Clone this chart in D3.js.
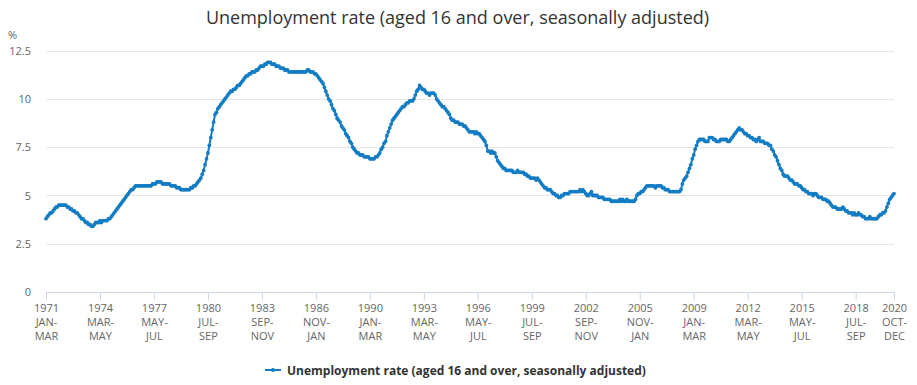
<!DOCTYPE html>
<html>
<head>
<meta charset="utf-8">
<script src="https://cdn.jsdelivr.net/npm/d3@7"></script>
<style>
  html, body { margin: 0; padding: 0; background: #ffffff; }
  svg { display: block; font-family: "Open Sans", "Noto Sans", sans-serif; }
</style>
</head>
<body>
<svg id="chart" width="917" height="385"></svg>
<script>
// ---- Data ----
const titleText = "Unemployment rate (aged 16 and over, seasonally adjusted)";
const seriesName = "Unemployment rate (aged 16 and over, seasonally adjusted)";
const startYear = 1971;
const monthNames = ["JAN","FEB","MAR","APR","MAY","JUN","JUL","AUG","SEP","OCT","NOV","DEC"];

// Rolling three-month values, one row per starting year (Jan-Mar ... Dec-Feb)
const rate = [
  // 1971
  3.8, 3.9, 4.0, 4.1, 4.1, 4.2, 4.3, 4.4, 4.4, 4.5, 4.5, 4.5,
  // 1972
  4.5, 4.5, 4.5, 4.4, 4.4, 4.3, 4.3, 4.2, 4.2, 4.1, 4.1, 4.0,
  // 1973
  3.9, 3.8, 3.8, 3.7, 3.6, 3.6, 3.5, 3.5, 3.4, 3.4, 3.5, 3.6,
  // 1974
  3.6, 3.6, 3.7, 3.6, 3.7, 3.7, 3.7, 3.7, 3.8, 3.8, 3.9, 4.0,
  // 1975
  4.1, 4.2, 4.3, 4.4, 4.5, 4.6, 4.7, 4.8, 4.9, 5.0, 5.1, 5.2,
  // 1976
  5.3, 5.3, 5.4, 5.5, 5.5, 5.5, 5.5, 5.5, 5.5, 5.5, 5.5, 5.5,
  // 1977
  5.5, 5.5, 5.5, 5.6, 5.6, 5.6, 5.7, 5.7, 5.7, 5.7, 5.6, 5.6,
  // 1978
  5.6, 5.6, 5.6, 5.6, 5.5, 5.5, 5.5, 5.5, 5.4, 5.4, 5.4, 5.3,
  // 1979
  5.3, 5.3, 5.3, 5.3, 5.3, 5.3, 5.4, 5.4, 5.5, 5.5, 5.6, 5.7,
  // 1980
  5.8, 5.9, 6.1, 6.3, 6.6, 6.9, 7.2, 7.6, 8.0, 8.4, 8.8, 9.2,
  // 1981
  9.3, 9.5, 9.6, 9.7, 9.8, 9.9, 10.0, 10.1, 10.2, 10.3, 10.4, 10.4,
  // 1982
  10.5, 10.5, 10.6, 10.7, 10.7, 10.8, 10.9, 11.0, 11.1, 11.2, 11.2, 11.3,
  // 1983
  11.3, 11.4, 11.4, 11.4, 11.5, 11.5, 11.6, 11.7, 11.7, 11.7, 11.8, 11.8,
  // 1984
  11.9, 11.9, 11.9, 11.8, 11.8, 11.8, 11.7, 11.7, 11.7, 11.6, 11.6, 11.6,
  // 1985
  11.5, 11.5, 11.5, 11.4, 11.4, 11.4, 11.4, 11.4, 11.4, 11.4, 11.4, 11.4,
  // 1986
  11.4, 11.4, 11.4, 11.4, 11.5, 11.5, 11.4, 11.4, 11.4, 11.3, 11.3, 11.2,
  // 1987
  11.1, 11.0, 10.9, 10.8, 10.6, 10.4, 10.2, 10.0, 9.9, 9.7, 9.5, 9.4,
  // 1988
  9.2, 9.0, 8.9, 8.8, 8.6, 8.5, 8.4, 8.2, 8.1, 8.0, 7.8, 7.7,
  // 1989
  7.5, 7.4, 7.3, 7.2, 7.2, 7.1, 7.1, 7.1, 7.0, 7.0, 7.0, 7.0,
  // 1990
  6.9, 6.9, 6.9, 6.9, 7.0, 7.0, 7.1, 7.2, 7.4, 7.5, 7.7, 7.8,
  // 1991
  8.1, 8.3, 8.5, 8.7, 8.9, 9.0, 9.1, 9.2, 9.3, 9.4, 9.5, 9.6,
  // 1992
  9.6, 9.7, 9.8, 9.8, 9.9, 9.9, 9.9, 10.0, 10.2, 10.4, 10.5, 10.7,
  // 1993
  10.6, 10.5, 10.5, 10.4, 10.3, 10.3, 10.2, 10.3, 10.3, 10.3, 10.2, 10.0,
  // 1994
  9.9, 9.8, 9.7, 9.6, 9.6, 9.5, 9.4, 9.3, 9.2, 9.0, 8.9, 8.9,
  // 1995
  8.8, 8.8, 8.8, 8.7, 8.7, 8.7, 8.6, 8.6, 8.5, 8.4, 8.3, 8.3,
  // 1996
  8.3, 8.3, 8.2, 8.3, 8.2, 8.2, 8.1, 8.0, 7.9, 7.8, 7.6, 7.3,
  // 1997
  7.3, 7.2, 7.3, 7.2, 7.2, 7.0, 6.8, 6.7, 6.6, 6.5, 6.4, 6.4,
  // 1998
  6.3, 6.3, 6.3, 6.3, 6.3, 6.2, 6.2, 6.2, 6.3, 6.2, 6.2, 6.2,
  // 1999
  6.2, 6.1, 6.1, 6.0, 6.0, 5.9, 5.9, 5.9, 5.9, 5.8, 5.9, 5.8,
  // 2000
  5.7, 5.6, 5.5, 5.4, 5.4, 5.3, 5.3, 5.3, 5.2, 5.1, 5.1, 5.0,
  // 2001
  5.0, 4.9, 4.9, 5.0, 5.0, 5.1, 5.1, 5.1, 5.1, 5.2, 5.2, 5.2,
  // 2002
  5.2, 5.2, 5.2, 5.2, 5.3, 5.2, 5.3, 5.2, 5.1, 5.0, 5.0, 5.1,
  // 2003
  5.2, 5.0, 5.0, 5.0, 5.0, 4.9, 4.9, 4.9, 4.9, 4.8, 4.8, 4.8,
  // 2004
  4.8, 4.8, 4.7, 4.7, 4.7, 4.7, 4.7, 4.7, 4.8, 4.7, 4.8, 4.7,
  // 2005
  4.7, 4.8, 4.7, 4.7, 4.7, 4.7, 4.7, 4.8, 5.0, 5.1, 5.1, 5.2,
  // 2006
  5.2, 5.3, 5.4, 5.5, 5.5, 5.5, 5.5, 5.5, 5.5, 5.4, 5.5, 5.5,
  // 2007
  5.5, 5.5, 5.4, 5.4, 5.3, 5.3, 5.3, 5.2, 5.2, 5.2, 5.2, 5.2,
  // 2008
  5.2, 5.2, 5.2, 5.3, 5.6, 5.8, 5.9, 6.0, 6.2, 6.4, 6.6, 6.9,
  // 2009
  7.1, 7.4, 7.6, 7.8, 7.9, 7.9, 7.9, 7.9, 7.8, 7.8, 7.8, 8.0,
  // 2010
  8.0, 8.0, 7.9, 7.9, 7.8, 7.8, 7.8, 7.9, 7.9, 7.9, 7.9, 7.9,
  // 2011
  7.8, 7.8, 7.9, 8.0, 8.1, 8.2, 8.3, 8.4, 8.5, 8.4, 8.4, 8.3,
  // 2012
  8.2, 8.2, 8.1, 8.1, 8.0, 8.0, 7.9, 7.9, 7.8, 7.9, 8.0, 7.8,
  // 2013
  7.8, 7.8, 7.7, 7.7, 7.7, 7.6, 7.6, 7.4, 7.3, 7.1, 7.0, 6.8,
  // 2014
  6.6, 6.4, 6.3, 6.1, 6.0, 6.0, 6.0, 5.9, 5.8, 5.8, 5.7, 5.6,
  // 2015
  5.6, 5.6, 5.5, 5.5, 5.4, 5.3, 5.3, 5.2, 5.2, 5.1, 5.1, 5.1,
  // 2016
  5.0, 5.1, 5.1, 5.0, 4.9, 4.9, 4.9, 4.8, 4.8, 4.8, 4.7, 4.7,
  // 2017
  4.6, 4.5, 4.4, 4.4, 4.4, 4.3, 4.3, 4.3, 4.3, 4.4, 4.3, 4.2,
  // 2018
  4.2, 4.1, 4.1, 4.1, 4.0, 4.1, 4.0, 4.0, 4.1, 4.0, 4.0, 3.9,
  // 2019
  3.9, 3.8, 3.8, 3.8, 3.9, 3.8, 3.8, 3.8, 3.8, 3.8, 3.9, 4.0,
  // 2020 (Jan-Mar ... Oct-Dec)
  4.0, 4.1, 4.1, 4.2, 4.4, 4.6, 4.8, 4.9, 5.0, 5.1
];

// Category labels (rolling 3-month periods)
const categories = rate.map((_, i) => {
  const y = startYear + Math.floor(i / 12);
  const m = i % 12;
  return y + " " + monthNames[m] + "-" + monthNames[(m + 2) % 12];
});

// Tick labels shown on the x axis
const xTickCats = [
  "1971 JAN-MAR", "1974 MAR-MAY", "1977 MAY-JUL", "1980 JUL-SEP", "1983 SEP-NOV",
  "1986 NOV-JAN", "1990 JAN-MAR", "1993 MAR-MAY", "1996 MAY-JUL", "1999 JUL-SEP",
  "2002 SEP-NOV", "2005 NOV-JAN", "2009 JAN-MAR", "2012 MAR-MAY", "2015 MAY-JUL",
  "2018 JUL-SEP", "2020 OCT-DEC"
];
const yTicks = [0, 2.5, 5, 7.5, 10, 12.5];
const yUnit = "%";

// ---- Layout ----
const W = 917, H = 385;
const plot = { left: 46, right: 894, top: 50.7, bottom: 292 };
const color = "#137cc3";

const svg = d3.select("#chart");

const x = d3.scalePoint().domain(categories).range([plot.left, plot.right]).padding(0);
const y = d3.scaleLinear().domain([0, 12.5]).range([plot.bottom, plot.top]);

// Title
svg.append("text")
  .attr("x", W / 2 - 1).attr("y", 24)
  .attr("text-anchor", "middle")
  .attr("font-size", 18)
  .attr("fill", "#333333")
  .text(titleText);

// Unit label
svg.append("text")
  .attr("x", 8).attr("y", 39)
  .attr("font-size", 11)
  .attr("fill", "#666666")
  .text(yUnit);

// Gridlines + y labels via axis
const yAxis = d3.axisLeft(y).tickValues(yTicks)
  .tickSize(-(plot.right - plot.left))
  .tickFormat(d => d3.format("~g")(d));
const gy = svg.append("g")
  .attr("transform", `translate(${plot.left},0)`)
  .call(yAxis);
gy.select(".domain").remove();
gy.selectAll(".tick line").attr("stroke", "#e6e6e6").attr("stroke-width", 1)
  .attr("shape-rendering", "crispEdges");
gy.selectAll(".tick text")
  .attr("x", -15)
  .attr("font-size", 11)
  .attr("font-family", "'Open Sans', 'Noto Sans', sans-serif")
  .attr("fill", "#666666");

// X axis
const xAxis = d3.axisBottom(x).tickValues(xTickCats).tickSize(8).tickSizeOuter(0).tickFormat(() => "");
const gx = svg.append("g")
  .attr("transform", `translate(0,${plot.bottom + 0.5})`)
  .call(xAxis);
gx.select(".domain").attr("stroke", "#ccd6eb").attr("stroke-width", 1)
  .attr("d", `M${plot.left},0H${plot.right}`);
gx.selectAll(".tick line").attr("stroke", "#ccd6eb").attr("stroke-width", 1);
gx.selectAll(".tick").each(function(d) {
  const parts = d.split(" ");
  const months = parts[1].split("-");
  const lines = [parts[0], months[0] + "-", months[1]];
  const t = d3.select(this).append("text")
    .attr("text-anchor", "middle")
    .attr("font-size", 11)
    .attr("font-family", "'Open Sans', 'Noto Sans', sans-serif")
    .attr("fill", "#666666");
  lines.forEach((s, i) => {
    t.append("tspan").attr("x", 0).attr("y", 19.5 + i * 14.2).text(s);
  });
});

// Line
const line = d3.line()
  .x((d, i) => x(categories[i]))
  .y(d => y(d));

svg.append("path")
  .datum(rate)
  .attr("fill", "none")
  .attr("stroke", color)
  .attr("stroke-width", 2)
  .attr("stroke-linejoin", "round")
  .attr("d", line);

svg.append("g").selectAll("circle")
  .data(rate)
  .join("circle")
  .attr("cx", (d, i) => x(categories[i]))
  .attr("cy", d => y(d))
  .attr("r", 1.9)
  .attr("fill", color);

// Legend
const legend = svg.append("g");
legend.append("line")
  .attr("x1", 265).attr("x2", 281).attr("y1", 370).attr("y2", 370)
  .attr("stroke", color).attr("stroke-width", 2);
legend.append("circle").attr("cx", 273).attr("cy", 370).attr("r", 2).attr("fill", color);
legend.append("text")
  .attr("x", 287).attr("y", 374.5)
  .attr("font-size", 12)
  .attr("font-weight", "bold")
  .attr("fill", "#333333")
  .text(seriesName);
</script>
</body>
</html>
